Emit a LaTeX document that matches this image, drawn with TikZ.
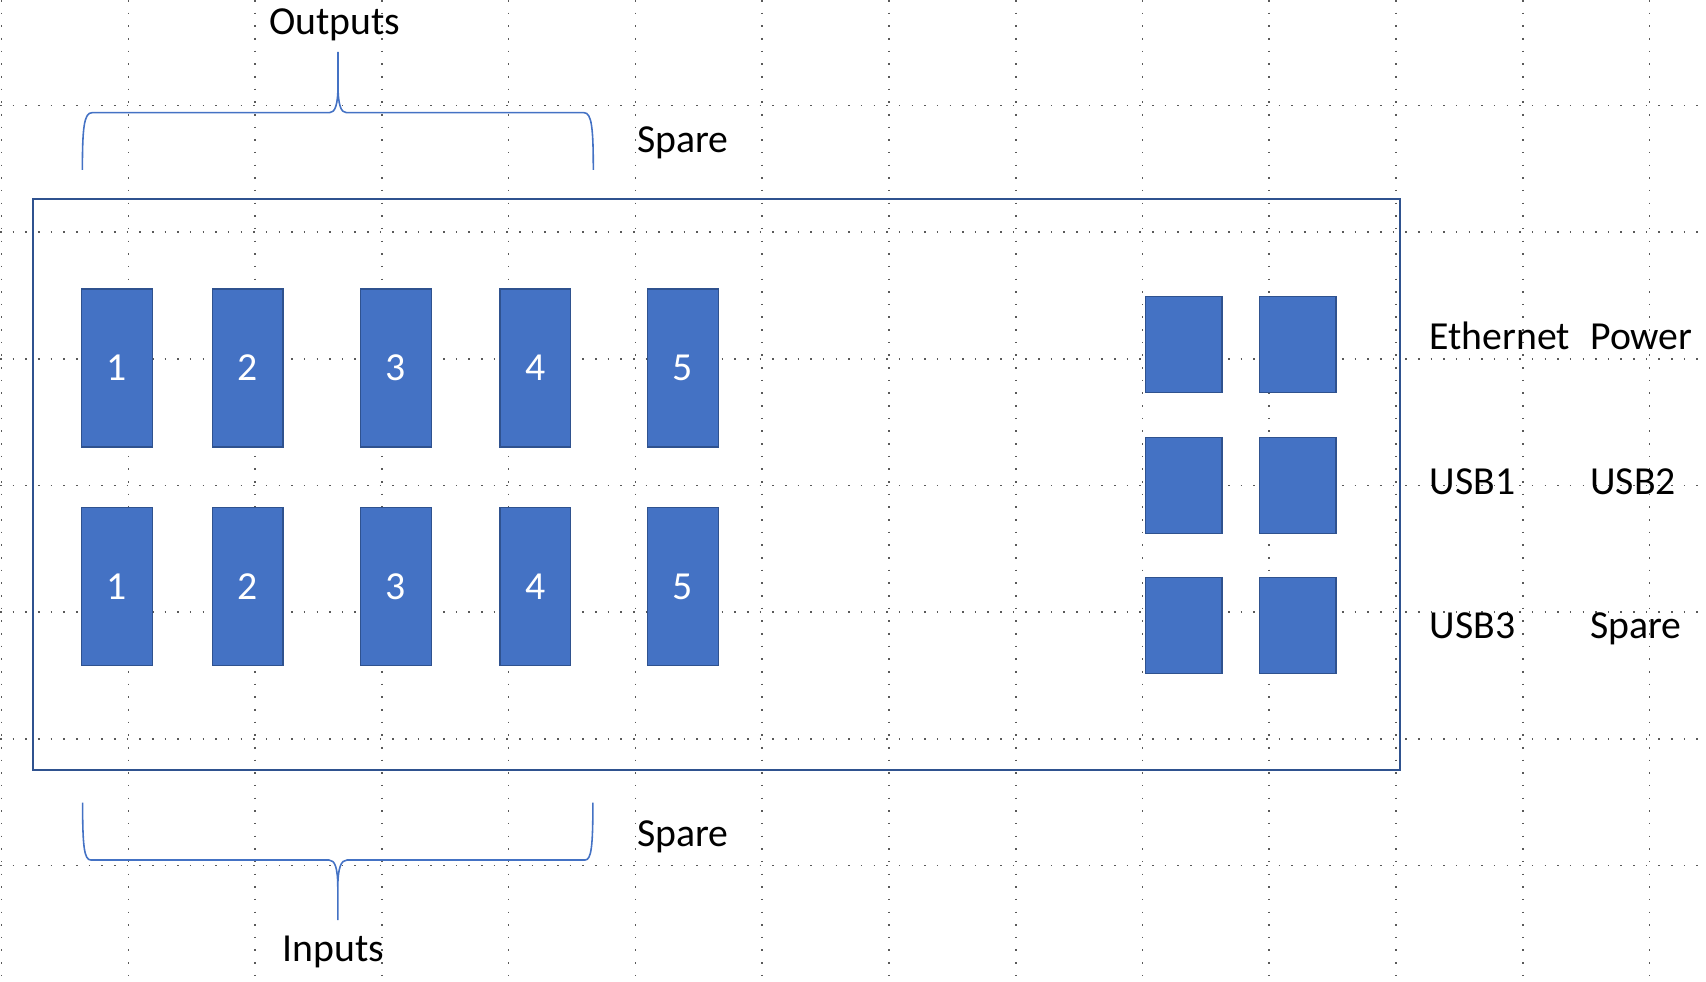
\documentclass[tikz,border=0pt]{standalone}
\usepackage{fontspec}
\setmainfont{Carlito}
\usepackage{tikz}
\usetikzlibrary{positioning}
\definecolor{portblue}{HTML}{4472C4}
\definecolor{portedge}{HTML}{2F528F}
\tikzset{%
  every port/.style={
    rectangle,
    draw=portedge,
    fill=portblue,
    line width=0.4pt,
    inner sep=0pt,
    minimum width=0.705cm,
    minimum height=1.58cm,
    text=white,
    font=\fontsize{11.3}{13.5}\selectfont
  },
  every jack/.style={
    every port,
    minimum width=0.765cm,
    minimum height=0.956cm
  },
  port label/.style={
    anchor=base west,
    inner sep=0pt,
    font=\fontsize{11.3}{13.5}\selectfont
  },
  grid dots/.style={
    black!65,
    line width=0.45pt,
    dash pattern=on 0.45pt off 3.15pt
  },
  brace line/.style={
    portblue,
    line width=0.45pt
  },
}

\begin{document}
\begin{tikzpicture}[x=0.01cm, y=-0.01cm]
\useasboundingbox (0,0) rectangle (1706,982);
% background grid
\foreach \gx in {1.7,128.45,...,1706}
    \draw[grid dots] (\gx,0) -- (\gx,982);
\foreach \gy in {105.3,232.03,...,982}
    \draw[grid dots] (0,\gy) -- (1706,\gy);
% panel
\draw[portedge, line width=0.6pt] (33,199.3) rectangle (1400.4,769.7);
% outputs (top) and inputs (bottom)
\foreach \n/\x in {1/117,2/247.8,3/396,4/535.3,5/683}
{
    \node[every port] (out_\n) at (\x,368) {\n};
    \node[every port] (in_\n) at (\x,586.5) {\n};
}
% ethernet, power, usb
\foreach \r/\y in {0/344.5,1/485.5,2/625.5}
    \foreach \c/\x in {0/1183.8,1/1297.8}
        \node[every jack] (jack_\r_\c) at (\x,\y) {};
\node[port label] (lbl_eth) at (1429,349.3) {Ethernet};
\node[port label] (lbl_power) at (1589.6,349.3) {Power};
\node[port label] (lbl_usb1) at (1429,494.3) {USB1};
\node[port label] (lbl_usb2) at (1589.6,494.3) {USB2};
\node[port label] (lbl_usb3) at (1429,638.3) {USB3};
\node[port label] (lbl_spare_r) at (1589.6,638.3) {Spare};
\node[port label] (lbl_spare_t) at (636.5,152.7) {Spare};
\node[port label] (lbl_spare_b) at (636.3,846.7) {Spare};
% braces
\draw[brace line] (82.4,170) .. controls (82.4,128) and (84,112.7) .. (92,112.7)
    -- (329.5,112.7) .. controls (335,112.7) and (338,105) .. (338,85) -- (338,52)
    -- (338,85) .. controls (338,105) and (341,112.7) .. (346.5,112.7)
    -- (584,112.7) .. controls (591.7,112.7) and (593.3,128) .. (593.3,170);
\draw[brace line] (82.6,802.7) .. controls (82.6,845) and (84,860) .. (90.8,860)
    -- (329,860) .. controls (335,860) and (337.8,868) .. (337.8,888) -- (337.8,920)
    -- (337.8,888) .. controls (337.8,868) and (341,860) .. (347,860)
    -- (585.2,860) .. controls (591.5,860) and (592.9,845) .. (592.9,802.7);
\node[port label, anchor=base] (lbl_outputs) at (335,34.5) {Outputs};
\node[port label, anchor=base] (lbl_inputs) at (333.7,961) {Inputs};
\end{tikzpicture}
\end{document}
